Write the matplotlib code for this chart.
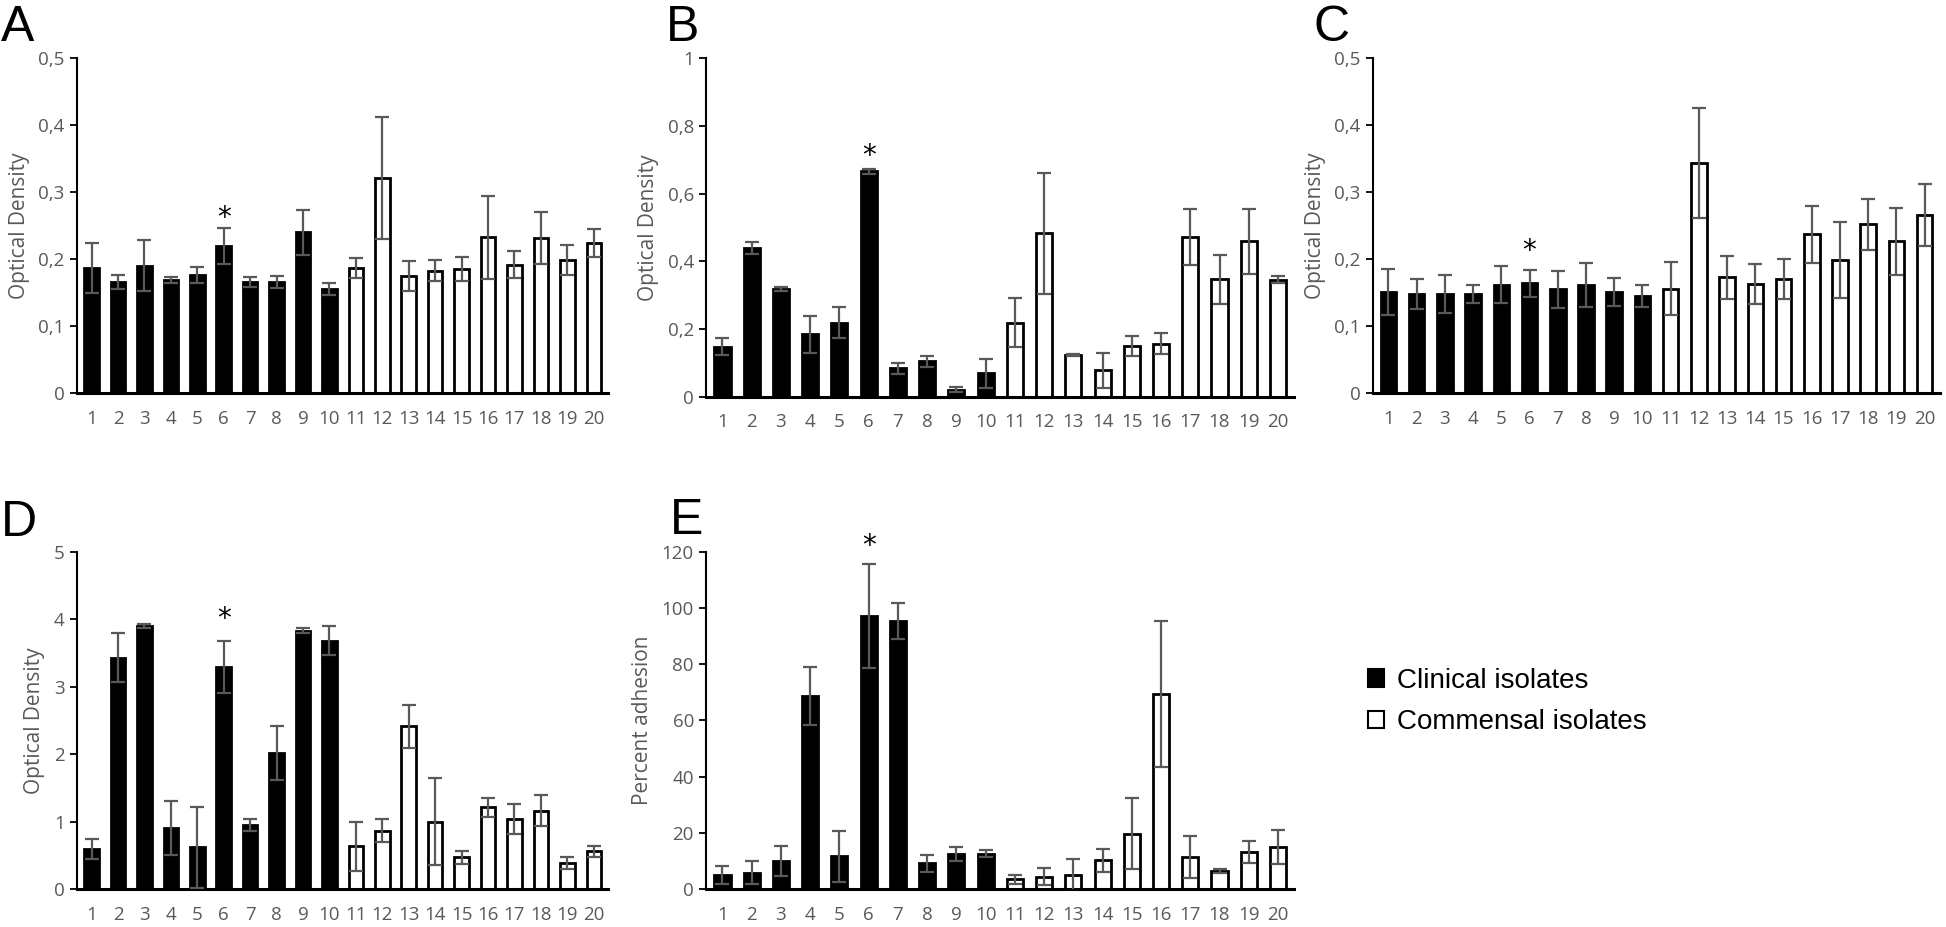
import numpy as np
import matplotlib.pyplot as plt
from matplotlib.patches import Patch
from matplotlib.ticker import FuncFormatter

# isolate numbers: 1-10 clinical, 11-20 commensal
isolates = list(range(1, 21))
n_clinical = 10

# Panel A - optical density
a_means = [0.187, 0.166, 0.190, 0.169, 0.176, 0.220, 0.166, 0.166, 0.240, 0.155,
           0.187, 0.321, 0.175, 0.183, 0.185, 0.233, 0.192, 0.232, 0.199, 0.224]
a_errs = [0.037, 0.010, 0.038, 0.005, 0.012, 0.027, 0.008, 0.009, 0.033, 0.009,
          0.015, 0.091, 0.022, 0.016, 0.018, 0.062, 0.020, 0.039, 0.022, 0.021]

# Panel B - optical density
b_means = [0.148, 0.440, 0.318, 0.184, 0.219, 0.666, 0.084, 0.105, 0.021, 0.069,
           0.219, 0.483, 0.124, 0.078, 0.151, 0.157, 0.473, 0.347, 0.460, 0.346]
b_errs = [0.026, 0.018, 0.005, 0.055, 0.045, 0.007, 0.017, 0.016, 0.008, 0.043,
          0.073, 0.178, 0.003, 0.052, 0.030, 0.030, 0.083, 0.073, 0.096, 0.010]

# Panel C - optical density
c_means = [0.151, 0.148, 0.148, 0.148, 0.162, 0.164, 0.155, 0.162, 0.151, 0.145,
           0.156, 0.344, 0.173, 0.163, 0.170, 0.237, 0.199, 0.252, 0.227, 0.266]
c_errs = [0.035, 0.022, 0.029, 0.014, 0.028, 0.020, 0.028, 0.033, 0.021, 0.017,
          0.040, 0.082, 0.032, 0.030, 0.030, 0.043, 0.057, 0.038, 0.050, 0.046]

# Panel D - optical density
d_means = [0.59, 3.43, 3.89, 0.91, 0.62, 3.29, 0.95, 2.01, 3.83, 3.68,
           0.63, 0.86, 2.41, 1.00, 0.47, 1.21, 1.04, 1.16, 0.39, 0.56]
d_errs = [0.15, 0.37, 0.03, 0.40, 0.60, 0.38, 0.09, 0.40, 0.03, 0.22,
          0.37, 0.17, 0.32, 0.65, 0.10, 0.14, 0.22, 0.23, 0.09, 0.08]

# Panel E - percent adhesion
e_means = [4.9, 5.8, 10.0, 68.7, 11.6, 97.1, 95.2, 9.2, 12.5, 12.5,
           3.4, 4.4, 5.0, 10.2, 19.7, 69.4, 11.4, 6.4, 13.2, 15.0]
e_errs = [3.1, 4.2, 5.4, 10.3, 9.0, 18.6, 6.4, 3.0, 2.5, 1.2,
          1.7, 3.0, 5.6, 4.2, 12.7, 25.9, 7.6, 0.6, 4.0, 6.0]

panels = [
    # letter, means, errs, ylabel, ymax, yticks, star y, axes rect, letter xy
    ('A', a_means, a_errs, 'Optical Density', 0.5, np.arange(0, 0.51, 0.1), 0.262,
     [0.0396, 0.576, 0.273, 0.361], (0.0005, 0.995)),
    ('B', b_means, b_errs, 'Optical Density', 1.0, np.arange(0, 1.01, 0.2), 0.712,
     [0.363, 0.572, 0.302, 0.365], (0.342, 0.995)),
    ('C', c_means, c_errs, 'Optical Density', 0.5, np.arange(0, 0.51, 0.1), 0.212,
     [0.7055, 0.576, 0.2915, 0.361], (0.675, 0.995)),
    ('D', d_means, d_errs, 'Optical Density', 5, np.arange(0, 6, 1), 4.0,
     [0.0396, 0.041, 0.273, 0.364], (0.0005, 0.461)),
    ('E', e_means, e_errs, 'Percent adhesion', 120, np.arange(0, 121, 20), 122,
     [0.363, 0.041, 0.302, 0.364], (0.344, 0.463)),
]

grey = '#595959'
plt.rcParams['font.family'] = ['Open Sans', 'DejaVu Sans']

fig = plt.figure(figsize=(19.46, 9.27), dpi=100, facecolor='white')


def comma_fmt(v, pos):
    if abs(v - round(v)) < 1e-9:
        return f'{int(round(v))}'
    return f'{v:.1f}'.replace('.', ',')


x = np.array(isolates)
for letter, means, errs, ylabel, ymax, yticks, star_y, rect, lxy in panels:
    ax = fig.add_axes(rect)
    face = ['black'] * n_clinical + ['white'] * (len(isolates) - n_clinical)
    ax.bar(x, means, width=0.55, color=face, edgecolor='black', linewidth=2, zorder=2)
    ax.errorbar(x, means, yerr=errs, fmt='none', ecolor=grey, elinewidth=1.6,
                capsize=5, capthick=1.6, zorder=3)
    ax.set_xlim(0.45, 20.55)
    ax.set_ylim(0, ymax)
    ax.set_yticks(yticks)
    ax.yaxis.set_major_formatter(FuncFormatter(comma_fmt))
    ax.set_xticks(x)
    ax.set_xticklabels([str(i) for i in isolates])
    ax.tick_params(axis='x', length=0, pad=12, labelsize=13.5, labelcolor=grey)
    ax.tick_params(axis='y', length=5, width=1.3, direction='out', labelsize=13.5,
                   labelcolor=grey, pad=4)
    ax.set_ylabel(ylabel, fontsize=15, color=grey, labelpad=6)
    for s in ['top', 'right']:
        ax.spines[s].set_visible(False)
    ax.spines['left'].set_linewidth(1.5)
    ax.spines['bottom'].set_linewidth(2.2)
    ax.text(6, star_y, '*', ha='center', va='center', fontsize=20,
            family='DejaVu Sans', clip_on=False)
    fig.text(lxy[0], lxy[1], letter, fontsize=36, family='Liberation Sans',
             va='top', ha='left')

handles = [Patch(facecolor='black', edgecolor='black', linewidth=1.5),
           Patch(facecolor='white', edgecolor='black', linewidth=1.5)]
fig.legend(handles, ['Clinical isolates', 'Commensal isolates'], loc='center left',
           bbox_to_anchor=(0.690, 0.243), frameon=False,
           prop={'family': 'Liberation Sans', 'size': 20},
           handlelength=0.6, handleheight=0.6, labelspacing=0.55, handletextpad=0.45)

plt.savefig('out.png', dpi=100, facecolor='white')
plt.close()
